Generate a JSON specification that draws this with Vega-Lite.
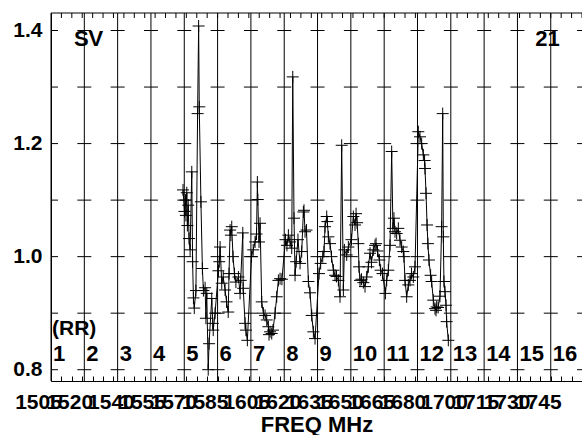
{
  "$schema": "https://vega.github.io/schema/vega-lite/v6.json",
  "width": 531,
  "height": 368,
  "autosize": {"type": "none"},
  "padding": {"left": 51, "top": 13, "right": 0, "bottom": 54},
  "background": "white",
  "config": {"view": {"stroke": null}, "font": "Liberation Sans", "axis": {"grid": false, "labelOverlap": false, "labelFlush": false, "labelBound": false}},
  "datasets": {
    "series": [
      {"f":1568.4,"v":1.118},{"f":1569.1,"v":1.08},{"f":1569.6,"v":1.10},{"f":1569.8,"v":1.073},{"f":1570.2,"v":1.113},{"f":1570.5,"v":1.055},{"f":1570.9,"v":1.091},{"f":1571.3,"v":1.032},{"f":1571.8,"v":1.012},{"f":1572.6,"v":1.150},{"f":1573.0,"v":0.991},{"f":1573.4,"v":0.927},{"f":1573.8,"v":0.909},{"f":1574.6,"v":0.94},{"f":1575.4,"v":1.253},{"f":1575.9,"v":1.408},{"f":1576.2,"v":1.265},{"f":1577.0,"v":1.097},{"f":1577.7,"v":0.979},{"f":1578.2,"v":0.94},{"f":1579.0,"v":0.945},{"f":1579.4,"v":0.891},{"f":1579.8,"v":0.935},{"f":1580.5,"v":0.80},{"f":1580.9,"v":0.846},{"f":1582.2,"v":0.926},{"f":1582.7,"v":0.882},{"f":1582.9,"v":0.870},{"f":1583.8,"v":0.90},
      {"f":1585.4,"v":0.975},{"f":1585.8,"v":0.991},{"f":1586.2,"v":1.017},{"f":1587.0,"v":0.953},{"f":1587.7,"v":0.964},{"f":1588.6,"v":0.941},{"f":1589.3,"v":0.92},{"f":1590.1,"v":0.902},{"f":1590.5,"v":0.97},{"f":1591.0,"v":1.047},{"f":1591.4,"v":1.038},{"f":1591.8,"v":1.053},{"f":1592.4,"v":1.00},{"f":1593.1,"v":0.97},{"f":1593.8,"v":0.955},{"f":1595.0,"v":0.964},{"f":1595.8,"v":0.935},{"f":1596.1,"v":0.958},{"f":1597.1,"v":1.042},{"f":1597.3,"v":0.944},{"f":1598.2,"v":0.882},{"f":1598.6,"v":0.87},{"f":1599.3,"v":0.852},
      {"f":1601.3,"v":1.00},{"f":1602.1,"v":1.012},{"f":1603.0,"v":1.026},{"f":1603.7,"v":1.04},{"f":1604.1,"v":1.132},{"f":1604.3,"v":1.101},{"f":1604.9,"v":1.026},{"f":1605.4,"v":1.059},{"f":1606.2,"v":0.920},{"f":1607.0,"v":0.90},{"f":1607.8,"v":0.896},{"f":1608.6,"v":0.888},{"f":1609.4,"v":0.876},{"f":1609.7,"v":0.862},{"f":1610.2,"v":0.867},{"f":1611.0,"v":0.864},{"f":1611.6,"v":0.87},{"f":1612.6,"v":0.90},{"f":1613.4,"v":0.929},{"f":1614.2,"v":0.958},{"f":1615.0,"v":0.961},{"f":1615.9,"v":0.96},
      {"f":1617.6,"v":1.03},{"f":1618.3,"v":1.02},{"f":1619.0,"v":1.038},{"f":1619.8,"v":1.026},{"f":1620.6,"v":1.015},{"f":1621.1,"v":1.318},{"f":1621.7,"v":1.068},{"f":1622.2,"v":0.967},{"f":1622.7,"v":0.991},{"f":1623.6,"v":1.03},{"f":1624.6,"v":0.988},{"f":1625.4,"v":1.009},{"f":1626.2,"v":1.079},{"f":1626.5,"v":1.082},{"f":1627.0,"v":1.044},{"f":1627.7,"v":1.047},{"f":1628.6,"v":0.956},{"f":1629.4,"v":0.936},{"f":1630.2,"v":0.896},{"f":1631.0,"v":0.867},{"f":1631.8,"v":0.855},
      {"f":1633.7,"v":0.97},{"f":1634.5,"v":0.988},{"f":1635.5,"v":1.000},{"f":1636.1,"v":1.009},{"f":1636.6,"v":1.053},{"f":1637.4,"v":1.071},{"f":1637.7,"v":1.062},{"f":1638.2,"v":1.035},{"f":1639.0,"v":1.023},{"f":1639.7,"v":1.00},{"f":1640.6,"v":0.976},{"f":1641.4,"v":0.967},{"f":1642.1,"v":0.965},{"f":1643.0,"v":0.958},{"f":1643.8,"v":0.929},{"f":1644.6,"v":1.197},{"f":1645.4,"v":0.941},{"f":1645.9,"v":1.012},{"f":1647.0,"v":1.003},{"f":1647.8,"v":1.017},
      {"f":1649.3,"v":1.03},{"f":1650.2,"v":1.071},{"f":1651.0,"v":1.056},{"f":1651.5,"v":1.076},{"f":1652.0,"v":1.06},{"f":1652.6,"v":1.023},{"f":1652.9,"v":0.982},{"f":1653.4,"v":0.958},{"f":1654.1,"v":0.96},{"f":1655.0,"v":0.954},{"f":1655.8,"v":0.947},{"f":1656.6,"v":0.964},{"f":1657.4,"v":0.982},{"f":1658.2,"v":1.006},{"f":1658.9,"v":0.99},{"f":1659.8,"v":1.012},{"f":1660.6,"v":1.02},{"f":1661.1,"v":1.023},{"f":1661.8,"v":1.01},{"f":1662.7,"v":0.994},{"f":1663.3,"v":0.976},{"f":1664.2,"v":0.97},
      {"f":1665.6,"v":0.935},{"f":1666.2,"v":0.958},{"f":1667.0,"v":0.976},{"f":1667.8,"v":1.02},{"f":1668.6,"v":1.186},{"f":1669.2,"v":1.05},{"f":1669.7,"v":1.068},{"f":1670.2,"v":1.044},{"f":1671.0,"v":1.041},{"f":1671.8,"v":1.050},{"f":1672.6,"v":1.029},{"f":1673.4,"v":1.017},{"f":1674.2,"v":1.009},{"f":1674.5,"v":1.00},{"f":1675.0,"v":0.958},{"f":1675.8,"v":0.929},{"f":1676.6,"v":0.950},{"f":1677.4,"v":0.958},{"f":1678.1,"v":0.97},{"f":1679.0,"v":0.964},{"f":1679.8,"v":0.982},
      {"f":1681.4,"v":1.221},{"f":1682.2,"v":1.212},{"f":1683.0,"v":1.200},{"f":1683.8,"v":1.180},{"f":1684.4,"v":1.17},{"f":1684.6,"v":1.156},{"f":1685.1,"v":1.112},{"f":1685.6,"v":1.056},{"f":1686.0,"v":1.023},{"f":1686.5,"v":0.994},{"f":1687.3,"v":0.967},{"f":1687.8,"v":0.956},{"f":1688.6,"v":0.923},{"f":1689.4,"v":0.908},{"f":1689.9,"v":0.905},{"f":1690.2,"v":0.911},{"f":1690.9,"v":0.91},{"f":1691.8,"v":0.93},{"f":1692.6,"v":1.053},{"f":1693.1,"v":1.253},{"f":1693.4,"v":1.035},{"f":1693.7,"v":0.956},{"f":1694.2,"v":0.938},{"f":1694.7,"v":0.914},{"f":1695.0,"v":0.885},{"f":1695.8,"v":0.852}
    ],
    "lines": [
      {"ch":1,"f":1505},{"ch":2,"f":1521},{"ch":3,"f":1537},{"ch":4,"f":1553},{"ch":5,"f":1569},{"ch":6,"f":1585},{"ch":7,"f":1601},{"ch":8,"f":1617},{"ch":9,"f":1633},{"ch":10,"f":1649},{"ch":11,"f":1665},{"ch":12,"f":1681},{"ch":13,"f":1697},{"ch":14,"f":1713},{"ch":15,"f":1729},{"ch":16,"f":1745}
    ],
    "minor": [
      {"f":1505},{"f":1510},{"f":1515},{"f":1520},{"f":1525},{"f":1530},{"f":1535},{"f":1540},{"f":1545},{"f":1550},{"f":1555},{"f":1560},{"f":1565},{"f":1570},{"f":1575},{"f":1580},{"f":1585},{"f":1590},{"f":1595},{"f":1600},{"f":1605},{"f":1610},{"f":1615},{"f":1620},{"f":1625},{"f":1630},{"f":1635},{"f":1640},{"f":1645},{"f":1650},{"f":1655},{"f":1660},{"f":1665},{"f":1670},{"f":1675},{"f":1680},{"f":1685},{"f":1690},{"f":1695},{"f":1700},{"f":1705},{"f":1710},{"f":1715},{"f":1720},{"f":1725},{"f":1730},{"f":1735},{"f":1740},{"f":1745},{"f":1750},{"f":1755},{"f":1760}
    ],
    "grid": [
      {"f":1505,"lv":[0.8,0.9,1.0,1.1,1.2,1.3,1.4]},{"f":1521,"lv":[0.8,0.9,1.0,1.1,1.2,1.3,1.4]},{"f":1537,"lv":[0.8,0.9,1.0,1.1,1.2,1.3,1.4]},{"f":1553,"lv":[0.8,0.9,1.0,1.1,1.2,1.3,1.4]},{"f":1569,"lv":[0.8,0.9,1.0,1.1,1.2,1.3,1.4]},{"f":1585,"lv":[0.8,0.9,1.0,1.1,1.2,1.3,1.4]},{"f":1601,"lv":[0.8,0.9,1.0,1.1,1.2,1.3,1.4]},{"f":1617,"lv":[0.8,0.9,1.0,1.1,1.2,1.3,1.4]},{"f":1633,"lv":[0.8,0.9,1.0,1.1,1.2,1.3,1.4]},{"f":1649,"lv":[0.8,0.9,1.0,1.1,1.2,1.3,1.4]},{"f":1665,"lv":[0.8,0.9,1.0,1.1,1.2,1.3,1.4]},{"f":1681,"lv":[0.8,0.9,1.0,1.1,1.2,1.3,1.4]},{"f":1697,"lv":[0.8,0.9,1.0,1.1,1.2,1.3,1.4]},{"f":1713,"lv":[0.8,0.9,1.0,1.1,1.2,1.3,1.4]},{"f":1729,"lv":[0.8,0.9,1.0,1.1,1.2,1.3,1.4]},{"f":1745,"lv":[0.8,0.9,1.0,1.1,1.2,1.3,1.4]},{"f":1761,"lv":[0.8,0.9,1.0,1.1,1.2,1.3,1.4]}
    ]
  },
  "layer": [
    {
      "data": {"name": "series"},
      "mark": {"type": "line", "color": "black", "strokeWidth": 1},
      "encoding": {
        "x": {"field": "f", "type": "quantitative", "scale": {"domain": [1505, 1760], "nice": false, "zero": false},
          "axis": {"orient": "bottom",
            "values": [1505,1510,1515,1520,1525,1530,1535,1540,1545,1550,1555,1560,1565,1570,1575,1580,1585,1590,1595,1600,1605,1610,1615,1620,1625,1630,1635,1640,1645,1650,1655,1660,1665,1670,1675,1680,1685,1690,1695,1700,1705,1710,1715,1720,1725,1730,1735,1740,1745,1750,1755,1760],
            "format": "d",
            "labelExpr": "indexof([1505,1520,1540,1555,1570,1585,1605,1620,1635,1650,1665,1680,1700,1715,1730,1745], datum.value) >= 0 ? datum.label : ''",
            "labelOverlap": false, "labelFlush": false, "labelBound": false,
            "labelOffset": -13, "labelPadding": 15,
            "labelFontSize": 21, "labelFontWeight": "bold", "labelColor": "black",
            "ticks": true, "tickSize": -5, "tickColor": "black", "tickWidth": 1,
            "domain": true, "domainColor": "black", "domainWidth": 1,
            "title": "FREQ MHz", "titleFontSize": 22, "titleFontWeight": "bold", "titleColor": "black", "titlePadding": 2}},
        "y": {"field": "v", "type": "quantitative", "scale": {"domain": [0.78, 1.431], "nice": false, "zero": false},
          "axis": {"orient": "left", "values": [0.8, 1.0, 1.2, 1.4], "format": ".1f", "labels": true,
            "ticks": false, "labelPadding": 9, "labelFontSize": 21, "labelFontWeight": "bold", "labelColor": "black",
            "domain": true, "domainColor": "black", "title": null}}
      }
    },
    {
      "data": {"name": "lines"},
      "mark": {"type": "rule", "color": "black", "strokeWidth": 1},
      "encoding": {
        "x": {"field": "f", "type": "quantitative", "scale": {"domain": [1505, 1760], "nice": false, "zero": false}, "axis": null}
      }
    },
    {
      "data": {"values": [{"t": "top"}]},
      "mark": {"type": "rule", "color": "black", "strokeWidth": 1},
      "encoding": {
        "y": {"datum": 1.431, "type": "quantitative", "scale": {"domain": [0.78, 1.431], "nice": false, "zero": false}}
      }
    },
    {
      "data": {"name": "minor"},
      "mark": {"type": "tick", "orient": "vertical", "size": 10, "thickness": 1, "color": "black", "opacity": 1, "clip": true},
      "encoding": {
        "x": {"field": "f", "type": "quantitative", "scale": {"domain": [1505, 1760], "nice": false, "zero": false}, "axis": null},
        "y": {"datum": 1.431, "type": "quantitative", "scale": {"domain": [0.78, 1.431], "nice": false, "zero": false}}
      }
    },
    {
      "data": {"name": "grid"},
      "transform": [{"flatten": ["lv"], "as": ["v"]}],
      "mark": {"type": "tick", "orient": "horizontal", "size": 14, "thickness": 1, "color": "black", "opacity": 1, "clip": true},
      "encoding": {
        "x": {"field": "f", "type": "quantitative", "scale": {"domain": [1505, 1760], "nice": false, "zero": false}, "axis": null},
        "y": {"field": "v", "type": "quantitative", "scale": {"domain": [0.78, 1.431], "nice": false, "zero": false}}
      }
    },
    {
      "data": {"name": "series"},
      "mark": {"type": "point", "shape": "M-1,0H1M0,-1V1", "size": 144, "filled": false, "color": "black", "strokeWidth": 1, "opacity": 1},
      "encoding": {
        "x": {"field": "f", "type": "quantitative", "scale": {"domain": [1505, 1760], "nice": false, "zero": false}, "axis": null},
        "y": {"field": "v", "type": "quantitative", "scale": {"domain": [0.78, 1.431], "nice": false, "zero": false}}
      }
    },
    {
      "data": {"name": "lines"},
      "mark": {"type": "text", "align": "left", "baseline": "alphabetic", "dx": 2, "fontSize": 22, "fontWeight": "bold", "color": "black"},
      "encoding": {
        "x": {"field": "f", "type": "quantitative", "scale": {"domain": [1505, 1760], "nice": false, "zero": false}, "axis": null},
        "y": {"datum": 0.815, "type": "quantitative", "scale": {"domain": [0.78, 1.431], "nice": false, "zero": false}},
        "text": {"field": "ch", "type": "nominal"}
      }
    },
    {
      "data": {"values": [{"t": "SV"}]},
      "mark": {"type": "text", "align": "left", "baseline": "alphabetic", "fontSize": 22, "fontWeight": "bold", "color": "black"},
      "encoding": {
        "x": {"datum": 1516.0, "type": "quantitative", "scale": {"domain": [1505, 1760], "nice": false, "zero": false}, "axis": null},
        "y": {"datum": 1.3735, "type": "quantitative", "scale": {"domain": [0.78, 1.431], "nice": false, "zero": false}},
        "text": {"field": "t", "type": "nominal"}
      }
    },
    {
      "data": {"values": [{"t": "21"}]},
      "mark": {"type": "text", "align": "left", "baseline": "alphabetic", "fontSize": 22, "fontWeight": "bold", "color": "black"},
      "encoding": {
        "x": {"datum": 1737.6, "type": "quantitative", "scale": {"domain": [1505, 1760], "nice": false, "zero": false}, "axis": null},
        "y": {"datum": 1.3735, "type": "quantitative", "scale": {"domain": [0.78, 1.431], "nice": false, "zero": false}},
        "text": {"field": "t", "type": "nominal"}
      }
    },
    {
      "data": {"values": [{"t": "(RR)"}]},
      "mark": {"type": "text", "align": "left", "baseline": "alphabetic", "dx": 1, "fontSize": 21, "fontWeight": "bold", "color": "black"},
      "encoding": {
        "x": {"datum": 1505, "type": "quantitative", "scale": {"domain": [1505, 1760], "nice": false, "zero": false}, "axis": null},
        "y": {"datum": 0.861, "type": "quantitative", "scale": {"domain": [0.78, 1.431], "nice": false, "zero": false}},
        "text": {"field": "t", "type": "nominal"}
      }
    }
  ],
  "resolve": {"axis": {"x": "independent", "y": "shared"}}
}
